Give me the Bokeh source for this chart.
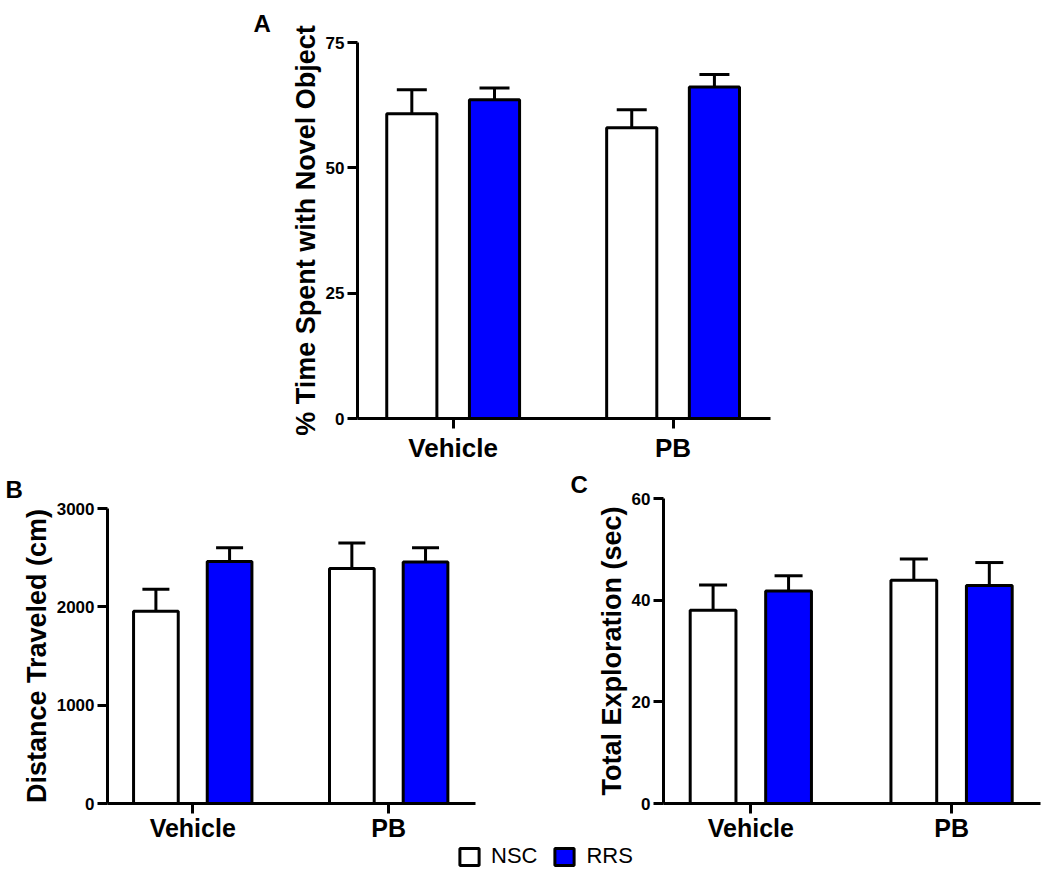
from bokeh.plotting import figure
from bokeh.models import (Range1d, FixedTicker, Whisker, TeeHead, ColumnDataSource,
                          Legend, LegendItem)
from bokeh.layouts import column, row
from bokeh.embed import file_html
from bokeh.resources import INLINE

# ---------------- data ----------------
groups = ["Vehicle", "PB"]
series = ["NSC", "RRS"]

a_nsc = [60.8, 58.0]
a_nsc_err = [4.8, 3.6]
a_rrs = [63.6, 66.1]
a_rrs_err = [2.3, 2.5]
a_ticks = [0, 25, 50, 75]

b_nsc = [1955, 2390]
b_nsc_err = [225, 260]
b_rrs = [2460, 2455]
b_rrs_err = [140, 145]
b_ticks = [0, 1000, 2000, 3000]

c_nsc = [38.0, 43.9]
c_nsc_err = [5.0, 4.2]
c_rrs = [41.8, 42.9]
c_rrs_err = [3.0, 4.5]
c_ticks = [0, 20, 40, 60]

# ---------------- style ----------------
FONT = "Liberation Sans"
BLUE = "#0000ff"
LW = 3
OFFSET = 0.188
BAR_W = 0.228
COLORS = ["white", BLUE]


def panel(nsc, nsc_err, rrs, rrs_err, ticks, ylabel, letter, letter_off,
          letter_standoff, fw, fh, bl, br, bt, bb, xfont, xstandoff, cap):
    p = figure(frame_width=fw, frame_height=fh, min_border_left=bl,
               min_border_right=br, min_border_top=bt, min_border_bottom=bb,
               output_backend="svg", toolbar_location=None,
               x_range=Range1d(-0.435, 1.443), y_range=Range1d(0, ticks[-1]))
    p.frame_align = False
    p.outline_line_color = None
    p.grid.visible = False
    p.background_fill_color = "white"
    p.border_fill_color = "white"

    # panel letter as a left-aligned title shifted over the axis label
    p.title.text = letter
    p.title.align = "left"
    p.title.offset = letter_off
    p.title.standoff = letter_standoff
    p.title.text_font = FONT
    p.title.text_font_style = "bold"
    p.title.text_font_size = "24px"
    p.title.text_color = "black"

    xs = list(range(len(groups)))
    for vals, errs, off, color in [(nsc, nsc_err, -OFFSET, COLORS[0]),
                                    (rrs, rrs_err, OFFSET, COLORS[1])]:
        bx = [x + off for x in xs]
        src = ColumnDataSource(dict(x=bx, top=vals,
                                    upper=[v + e for v, e in zip(vals, errs)]))
        w = Whisker(base="x", lower="top", upper="upper", source=src,
                    dimension="height", line_width=LW, line_color="black",
                    lower_head=None,
                    upper_head=TeeHead(size=cap, line_width=LW, line_color="black"))
        p.add_layout(w)
        p.vbar(x="x", top="top", bottom=0, width=BAR_W, source=src,
               fill_color=color, line_color="black", line_width=LW)

    # axes
    p.xaxis.ticker = FixedTicker(ticks=xs)
    p.xaxis.major_label_overrides = {i: g for i, g in enumerate(groups)}
    p.yaxis.ticker = FixedTicker(ticks=ticks)
    for ax in (p.xaxis, p.yaxis):
        ax.axis_line_width = LW
        ax.axis_line_color = "black"
        ax.major_tick_line_width = LW
        ax.major_tick_line_color = "black"
        ax.major_tick_out = 10
        ax.major_tick_in = 0
        ax.minor_tick_line_color = None
        ax.major_label_text_font = FONT
        ax.major_label_text_font_style = "bold"
        ax.major_label_text_color = "black"
    p.yaxis.major_label_text_font_size = "17px"
    p.yaxis.major_label_standoff = 3
    p.xaxis.major_label_text_font_size = xfont
    p.xaxis.major_label_standoff = xstandoff
    p.yaxis.axis_label = ylabel
    p.yaxis.axis_label_text_font = FONT
    p.yaxis.axis_label_text_font_style = "bold"
    p.yaxis.axis_label_text_font_size = "27px"
    p.yaxis.axis_label_text_color = "black"
    p.yaxis.axis_label_standoff = 2
    return p


pA = panel(a_nsc, a_nsc_err, a_rrs, a_rrs_err, a_ticks,
           "% Time Spent with Novel Object", "A", -104, 12,
           413, 376, 357, 280, 42, 48, "26px", 4, 30)
pB = panel(b_nsc, b_nsc_err, b_rrs, b_rrs_err, b_ticks,
           "Distance Traveled (cm)", "B", -102, 12,
           368, 295, 107, 75, 42, 39, "25px", 0, 27)
pC = panel(c_nsc, c_nsc_err, c_rrs, c_rrs_err, c_ticks,
           "Total Exploration (sec)", "C", -93, 2,
           377, 305, 113, 10, 32, 39, "25px", 0, 28)

# legend strip (legend swatches come from off-range proxy bars)
pL = figure(frame_width=1050, frame_height=29, min_border=0,
            output_backend="svg", toolbar_location=None,
            x_axis_type=None, y_axis_type=None,
            x_range=Range1d(0, 1), y_range=Range1d(0, 1))
pL.frame_align = False
pL.outline_line_color = None
pL.grid.visible = False
items = []
for name, color in zip(series, COLORS):
    r = pL.vbar(x=[-50], top=[-40], bottom=[-50], width=0.1, fill_color=color,
                line_color="black", line_width=LW)
    items.append(LegendItem(label=name, renderers=[r]))
lg = Legend(items=items, location=(457, 4), orientation="horizontal",
            border_line_color=None, background_fill_alpha=0,
            padding=0, margin=0, spacing=15, label_standoff=10,
            glyph_width=24, glyph_height=21, label_height=21,
            label_text_font=FONT, label_text_font_size="22px",
            label_text_color="black")
pL.add_layout(lg)

layout = column(pA, row(pB, pC, spacing=0), pL, spacing=0)

with open("out.html", "w") as f:
    f.write(file_html(layout, INLINE))
